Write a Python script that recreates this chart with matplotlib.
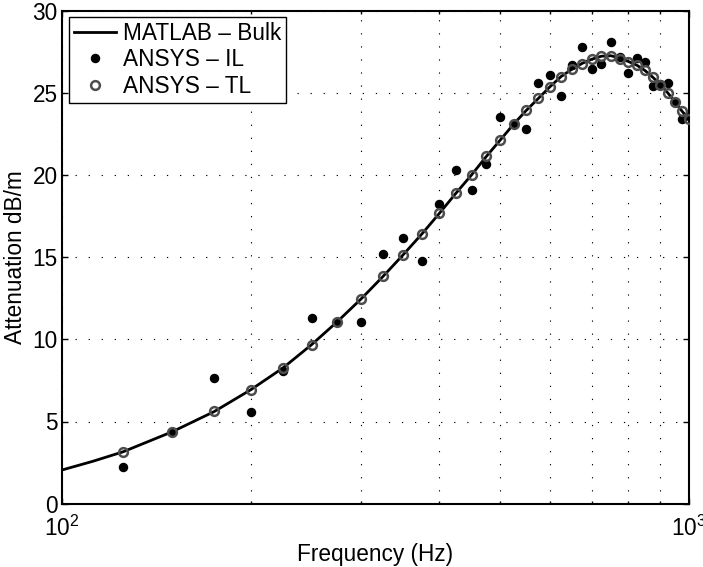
import matplotlib
matplotlib.use("Agg")
import matplotlib.pyplot as plt
from matplotlib.ticker import NullFormatter

plt.rcParams['font.family'] = ['Liberation Sans', 'DejaVu Sans']
plt.rcParams['mathtext.fontset'] = 'custom'
plt.rcParams['mathtext.rm'] = 'Liberation Sans'
plt.rcParams['mathtext.it'] = 'Liberation Sans'
plt.rcParams['lines.scale_dashes'] = False

# ---- data ----
curve_freq = [100, 112, 125, 150, 175, 200, 225, 250, 275, 300, 325, 350, 375, 400,
              425, 450, 475, 500, 525, 550, 575, 600, 625, 650, 675, 700, 725, 750,
              775, 800, 825, 850, 875, 900, 925, 950, 975, 1000]
curve_att = [2.05, 2.58, 3.15, 4.38, 5.61, 6.93, 8.25, 9.67, 11.08, 12.46, 13.82, 15.14,
             16.41, 17.67, 18.89, 20.0, 21.12, 22.12, 23.08, 23.92, 24.65, 25.36, 25.98,
             26.42, 26.78, 27.04, 27.22, 27.25, 27.12, 26.9, 26.68, 26.36, 25.95, 25.5,
             24.99, 24.42, 23.87, 23.38]

sim_freq = [125, 150, 175, 200, 225, 250, 275, 300, 325, 350, 375, 400, 425, 450,
            475, 500, 525, 550, 575, 600, 625, 650, 675, 700, 725, 750, 775, 800,
            825, 850, 875, 900, 925, 950, 975, 1000]
il_att = [2.25, 4.38, 7.64, 5.59, 8.1, 11.29, 11.08, 11.04, 15.18, 16.19, 14.77, 18.24,
          20.30, 19.09, 20.68, 23.53, 23.08, 22.78, 25.62, 26.08, 24.8, 26.69, 27.77,
          26.47, 26.72, 28.06, 27.17, 26.22, 27.14, 26.88, 25.40, 25.5, 25.56, 24.42,
          23.38, 23.6]
tl_att = [3.15, 4.38, 5.61, 6.93, 8.25, 9.67, 11.08, 12.46, 13.82, 15.14, 16.41, 17.67,
          18.89, 20.0, 21.12, 22.12, 23.08, 23.92, 24.65, 25.36, 25.98, 26.42, 26.77,
          27.02, 27.22, 27.22, 27.08, 26.87, 26.67, 26.37, 25.96, 25.49, 24.98, 24.44,
          23.89, 23.43]

y_ticks = [0, 5, 10, 15, 20, 25, 30]
labels = ["MATLAB \u2013 Bulk", "ANSYS \u2013 IL", "ANSYS \u2013 TL"]

FS = 16.3

fig = plt.figure(figsize=(7.03, 5.67), dpi=100)
ax = fig.add_axes([62/703, 1 - 503.7/567, 627/703, 493.2/567])

ax.plot(curve_freq, curve_att, '-', color='black', lw=2.0, label=labels[0], zorder=3)
ax.plot(sim_freq, il_att, 'o', ls='none', color='black', ms=5.8, label=labels[1], zorder=4)
ax.plot(sim_freq, tl_att, 'o', ls='none', mfc='none', mec='#4d4d4d', mew=1.8, ms=6.3,
        label=labels[2], zorder=5)

ax.set_xscale('log')
ax.set_xlim(100, 1000)
ax.set_ylim(0, 30)
ax.set_yticks(y_ticks)
ax.xaxis.set_minor_formatter(NullFormatter())

gridstyle = dict(color='black', linestyle=(0, (0.9, 8.5)), linewidth=0.8)
ax.grid(True, which='major', axis='both', **gridstyle)
ax.grid(True, which='minor', axis='x', **gridstyle)
ax.set_axisbelow(True)

ax.tick_params(which='both', direction='in', top=True, right=True, labelsize=FS, width=1.0)
ax.tick_params(which='major', length=4.5)
ax.tick_params(which='minor', length=2.5)
ax.tick_params(axis='x', which='major', pad=9)
ax.tick_params(axis='y', which='major', pad=3)

for s in ax.spines.values():
    s.set_linewidth(1.5)

ax.set_xlabel('Frequency (Hz)', fontsize=FS, labelpad=1)
ax.set_ylabel('Attenuation dB/m', fontsize=FS, labelpad=4)

leg = ax.legend(loc='upper left', bbox_to_anchor=(0.011, 0.987), borderaxespad=0,
                fontsize=FS, numpoints=1, handlelength=1.85, handletextpad=0.3,
                labelspacing=0.15, borderpad=0.22, fancybox=False, framealpha=1,
                edgecolor='black')
leg.get_frame().set_linewidth(1.0)

fig.savefig('out.png', dpi=100)
